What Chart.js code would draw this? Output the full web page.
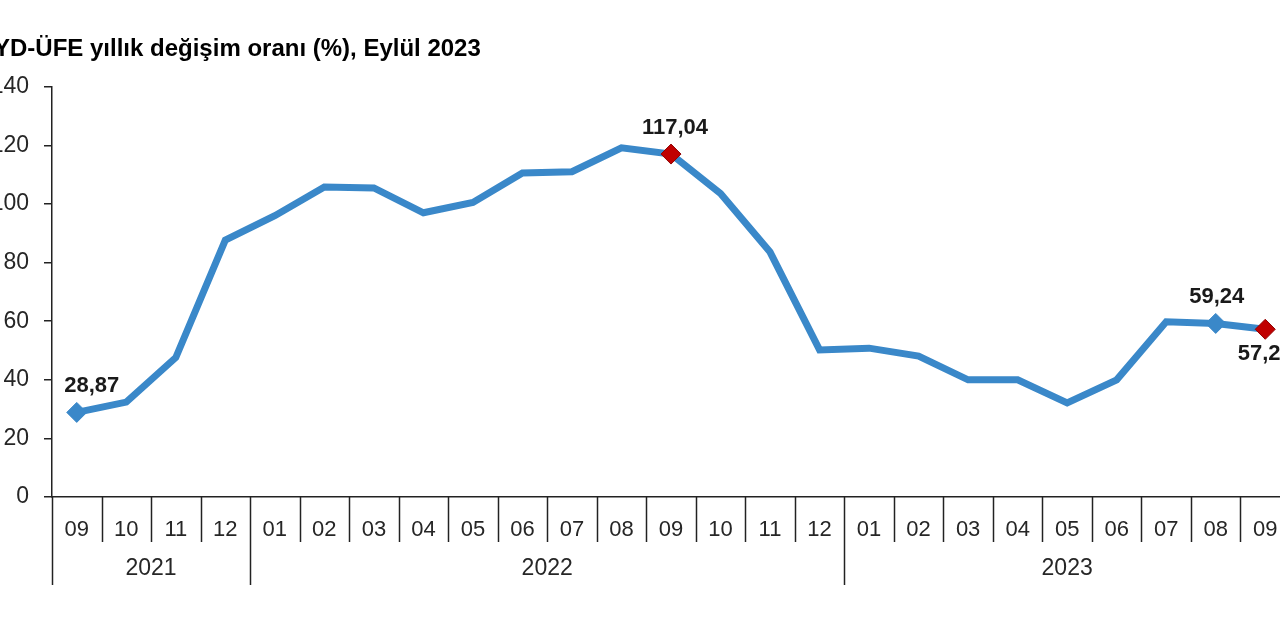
<!DOCTYPE html>
<html>
<head>
<meta charset="utf-8">
<script src="https://cdn.jsdelivr.net/npm/chart.js@4/dist/chart.umd.min.js"></script>
<style>
  html, body { margin: 0; padding: 0; background: #fff; overflow: hidden; width: 1280px; height: 640px; }
  #grafik { position: absolute; left: -40px; top: 0; }
</style>
</head>
<body>
<canvas id="grafik" width="1360" height="640"></canvas>
<script>
// Aylar (kategoriler)
const aylar = ['09', '10', '11', '12',
  '01', '02', '03', '04', '05', '06', '07', '08', '09', '10', '11', '12',
  '01', '02', '03', '04', '05', '06', '07', '08', '09'];

// Yıllar ve her yıla düşen ay sayısı
const yillar = ['2021', '2022', '2023'];
const yilAySayisi = [4, 12, 9];

// YD-ÜFE yıllık değişim oranı (%)
const degerler = [28.87, 32.4, 47.6, 87.7, 96.0, 105.8, 105.5, 97.0, 100.5, 110.6, 111.0, 119.2,
  117.04, 103.6, 83.6, 50.2, 50.8, 48.1, 40.0, 40.0, 32.1, 40.0, 59.8, 59.24, 57.24];

// Y ekseni
const yMin = 0;
const yMax = 140;
const yAdim = 20;

// Etiketli noktalar (indeks)
const maviNoktalar = [0, 23];
const kirmiziNoktalar = [12, 24];

const MAVI = '#3a88c9';
const KIRMIZI = '#c00000';
const YAZI = '#262626';
const FONT = '"Liberation Sans", Arial, sans-serif';

// Nokta stilleri
const noktaYaricap = degerler.map((_, i) => (maviNoktalar.includes(i) || kirmiziNoktalar.includes(i)) ? 10 : 0);
const noktaRenk = degerler.map((_, i) => kirmiziNoktalar.includes(i) ? KIRMIZI : MAVI);
const noktaKenar = degerler.map((_, i) => kirmiziNoktalar.includes(i) ? '#900000' : MAVI);

// Etiket yerleşimi: [indeks, konum, x kayması]
const etiketler = [
  [0, 'ust', 15],
  [12, 'ust', 4],
  [23, 'ust', 1],
  [24, 'alt', 0]
];

function formatla(v) {
  return v.toFixed(2).replace('.', ',');
}

// Alt eksendeki ayraçlar, yıl etiketleri ve değer etiketleri
const eksenCizimi = {
  id: 'eksenCizimi',
  afterDraw(chart) {
    const ctx = chart.ctx;
    const x = chart.scales.x;
    const alt = chart.chartArea.bottom;
    const sinir = i => x.getPixelForValue(i - 0.5);

    // yıl başlangıç indeksleri
    const baslangic = [];
    let s = 0;
    yilAySayisi.forEach(n => { baslangic.push(s); s += n; });

    ctx.save();
    ctx.strokeStyle = '#222';
    ctx.lineWidth = 1.5;
    for (let i = 0; i <= aylar.length; i++) {
      const px = Math.round(sinir(i)) + 0.5;
      const uzun = baslangic.includes(i) || i === aylar.length;
      ctx.beginPath();
      ctx.moveTo(px, alt);
      ctx.lineTo(px, alt + (uzun ? 88 : 45));
      ctx.stroke();
    }

    ctx.fillStyle = YAZI;
    ctx.font = '23px ' + FONT;
    ctx.textAlign = 'center';
    ctx.textBaseline = 'middle';
    yillar.forEach((yil, k) => {
      const a = baslangic[k];
      const b = a + yilAySayisi[k];
      ctx.fillText(yil, (sinir(a) + sinir(b)) / 2, alt + 72);
    });

    // değer etiketleri
    const meta = chart.getDatasetMeta(0);
    ctx.font = 'bold 22px ' + FONT;
    ctx.fillStyle = '#1a1a1a';
    etiketler.forEach(([i, konum, dx]) => {
      const p = meta.data[i];
      const dy = konum === 'ust' ? -26 : 25;
      ctx.fillText(formatla(degerler[i]), p.x + dx, p.y + dy);
    });
    ctx.restore();
  }
};

new Chart(document.getElementById('grafik'), {
  type: 'line',
  data: {
    labels: aylar,
    datasets: [{
      label: 'YD-ÜFE',
      data: degerler,
      borderColor: MAVI,
      borderWidth: 7,
      tension: 0,
      fill: false,
      pointStyle: 'rectRot',
      pointRadius: noktaYaricap,
      pointBackgroundColor: noktaRenk,
      pointBorderColor: noktaKenar,
      pointBorderWidth: 1,
      pointHoverRadius: noktaYaricap
    }]
  },
  options: {
    responsive: false,
    animation: false,
    devicePixelRatio: 1,
    layout: { padding: { left: 34, right: 30, top: 0, bottom: 0 } },
    plugins: {
      legend: { display: false },
      tooltip: { enabled: false },
      title: {
        display: true,
        text: 'YD-ÜFE yıllık değişim oranı (%), Eylül 2023',
        align: 'start',
        color: '#000',
        font: { family: FONT, size: 24, weight: 'bold', lineHeight: 1.2 },
        padding: { top: 35, bottom: 23 }
      }
    },
    scales: {
      x: {
        type: 'category',
        offset: true,
        border: { display: true, color: '#222', width: 1.5 },
        grid: { display: false },
        ticks: {
          color: YAZI,
          font: { family: FONT, size: 22 },
          padding: 12,
          maxRotation: 0,
          autoSkip: false
        },
        afterFit(scale) { scale.height = 143; }
      },
      y: {
        min: yMin,
        max: yMax,
        border: { display: true, color: '#222', width: 1.5 },
        grid: { drawOnChartArea: false, drawTicks: true, tickLength: 8, color: '#222', lineWidth: 1.5 },
        ticks: {
          stepSize: yAdim,
          color: YAZI,
          font: { family: FONT, size: 23 },
          padding: 15
        },
        afterFit(scale) { scale.width = 58; }
      }
    }
  },
  plugins: [eksenCizimi]
});
</script>
</body>
</html>
